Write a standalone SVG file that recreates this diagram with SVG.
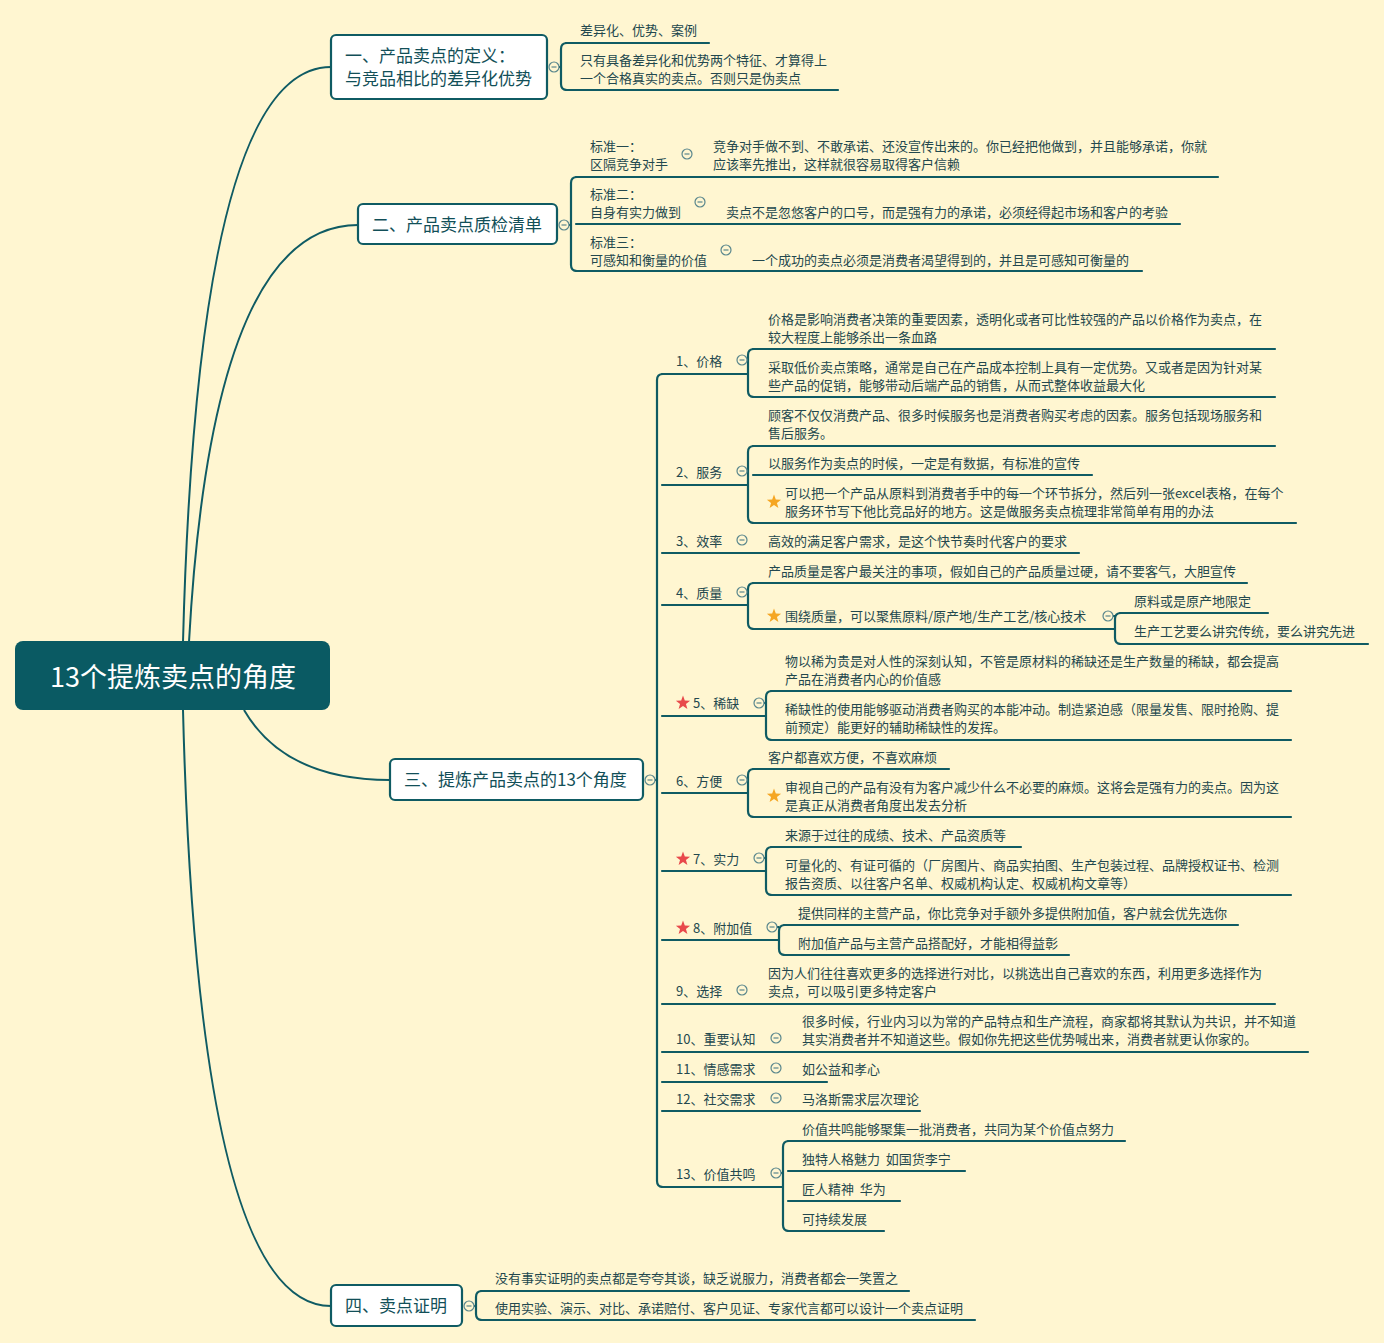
<svg xmlns="http://www.w3.org/2000/svg" width="1384" height="1343" viewBox="0 0 1384 1343">
<defs>
<style>
.bg{fill:#fff6d1}
.ln{fill:none;stroke:#0f5b63;stroke-width:2.2;stroke-linecap:round}
.br{fill:none;stroke:#0f5b63;stroke-width:2.2;stroke-linejoin:round}
.cv{fill:none;stroke:#0f5b63;stroke-width:2}
.box{fill:#ffffff;stroke:#0f5b63;stroke-width:2.2}
.t{font-family:"Noto Sans CJK SC","Noto Sans",sans-serif;font-size:13px;fill:#23484e;white-space:pre}
.m{font-family:"Noto Sans CJK SC","Noto Sans",sans-serif;font-size:17px;fill:#124f58}
.r{font-family:"Noto Sans CJK SC","Noto Sans",sans-serif;font-size:27px;fill:#ffffff}
.c{fill:#fff6d1;stroke:#5a878d;stroke-width:1.2}
.cm{stroke:#5a878d;stroke-width:1.2}
.so{fill:#f5a623}
.sr{fill:#e8494b}
</style>
<polygon id="star" points="0,-7.5 1.8,-2.5 7.1,-2.3 2.95,0.95 4.4,6.05 0,3.1 -4.4,6.05 -2.95,0.95 -7.1,-2.3 -1.8,-2.5"/>
<g id="fold"><circle class="c" r="5"/><line class="cm" x1="-2.5" y1="0" x2="2.5" y2="0"/></g>
</defs>
<rect class="bg" x="0" y="0" width="1384" height="1343"/>

<!-- connectors: root curves and elbow brackets -->
<g id="connectors">
<path class="cv" d="M183 642 Q198 67 331 67"/>
<path class="cv" d="M189 642 Q212 225 358 225"/>
<path class="cv" d="M244 710 Q285 780 390 780"/>
<path class="cv" d="M183 710 Q198 1306 331 1306"/>
<!-- section 1 -->
<path class="br" d="M559 67 H561 M567 43 Q561 43 561 49 V84 Q561 90 567 90"/>
<!-- section 2 -->
<path class="br" d="M569 225 H571 M577 177 Q571 177 571 183 V265 Q571 271 577 271"/>
<!-- section 3 -->
<path class="br" d="M655 780 H657 M663 374 Q657 374 657 380 V1181 Q657 1187 663 1187"/>
<path class="br" d="M747 360 H748 M754 349 Q748 349 748 355 V391 Q748 397 754 397"/>
<path class="br" d="M747 471 H748 M754 446 Q748 446 748 452 V517 Q748 523 754 523"/>
<path class="br" d="M747 592 H748 M754 583 Q748 583 748 589 V623 Q748 629 754 629"/>
<path class="br" d="M1113 616 H1115 M1121 613 Q1115 613 1115 619 V638 Q1115 644 1121 644"/>
<path class="br" d="M764 703 H766 M772 691 Q766 691 766 697 V734 Q766 740 772 740"/>
<path class="br" d="M747 780 H748 M754 769 Q748 769 748 775 V811 Q748 817 754 817"/>
<path class="br" d="M764 858 H766 M772 847 Q766 847 766 853 V889 Q766 895 772 895"/>
<path class="br" d="M777 927 H779 M785 925 Q779 925 779 931 V949 Q779 955 785 955"/>
<path class="br" d="M781 1173 H783 M789 1141 Q783 1141 783 1147 V1225 Q783 1231 789 1231"/>
<!-- section 4 -->
<path class="br" d="M474 1306 H476 M482 1291 Q476 1291 476 1297 V1314 Q476 1320 482 1320"/>
</g>

<!-- central topic -->
<g id="root">
<rect x="15" y="641" width="315" height="69" rx="8" fill="#0a5a63"/>
<text class="r" x="173" y="687" text-anchor="middle">13个提炼卖点的角度</text>
</g>

<!-- 一 -->
<g id="n1">
<rect class="box" x="331" y="35" width="216" height="64" rx="5"/>
<text class="m" x="345" y="62">一、产品卖点的定义：</text>
<text class="m" x="345" y="85">与竞品相比的差异化优势</text>
<use href="#fold" x="554" y="67"/>
</g>
<g id="n1-1"><text class="t" x="580" y="35">差异化、优势、案例</text><line class="ln" x1="566" y1="43" x2="709" y2="43"/></g>
<g id="n1-2"><text class="t" x="580" y="65">只有具备差异化和优势两个特征、才算得上</text><text class="t" x="580" y="83">一个合格真实的卖点。否则只是伪卖点</text><line class="ln" x1="566" y1="90" x2="838" y2="90"/></g>

<!-- 二 -->
<g id="n2">
<rect class="box" x="358" y="204" width="199" height="40" rx="5"/>
<text class="m" x="372" y="231">二、产品卖点质检清单</text>
<use href="#fold" x="564" y="225"/>
</g>
<g id="n2-1"><text class="t" x="590" y="151">标准一：</text><text class="t" x="590" y="169">区隔竞争对手</text><use href="#fold" x="687" y="154"/><line class="ln" x1="576" y1="177" x2="700" y2="177"/></g>
<g id="n2-1-1"><text class="t" x="713" y="151">竞争对手做不到、不敢承诺、还没宣传出来的。你已经把他做到，并且能够承诺，你就</text><text class="t" x="713" y="169">应该率先推出，这样就很容易取得客户信赖</text><line class="ln" x1="700" y1="177" x2="1218" y2="177"/></g>
<g id="n2-2"><text class="t" x="590" y="199">标准二：</text><text class="t" x="590" y="217">自身有实力做到</text><use href="#fold" x="700" y="202"/><line class="ln" x1="576" y1="224" x2="713" y2="224"/></g>
<g id="n2-2-1"><text class="t" x="726" y="217">卖点不是忽悠客户的口号，而是强有力的承诺，必须经得起市场和客户的考验</text><line class="ln" x1="713" y1="224" x2="1180" y2="224"/></g>
<g id="n2-3"><text class="t" x="590" y="247">标准三：</text><text class="t" x="590" y="265">可感知和衡量的价值</text><use href="#fold" x="726" y="250"/><line class="ln" x1="576" y1="271" x2="739" y2="271"/></g>
<g id="n2-3-1"><text class="t" x="752" y="265">一个成功的卖点必须是消费者渴望得到的，并且是可感知可衡量的</text><line class="ln" x1="739" y1="271" x2="1142" y2="271"/></g>

<!-- 三 -->
<g id="n3">
<rect class="box" x="390" y="759" width="253" height="41" rx="5"/>
<text class="m" x="404" y="786">三、提炼产品卖点的13个角度</text>
<use href="#fold" x="650" y="780"/>
</g>

<g id="a1"><text class="t" x="676" y="366">1、价格</text><use href="#fold" x="742" y="360"/><line class="ln" x1="662" y1="374" x2="748" y2="374"/></g>
<g id="a1-1"><text class="t" x="768" y="324">价格是影响消费者决策的重要因素，透明化或者可比性较强的产品以价格作为卖点，在</text><text class="t" x="768" y="342">较大程度上能够杀出一条血路</text><line class="ln" x1="753" y1="349" x2="1275" y2="349"/></g>
<g id="a1-2"><text class="t" x="768" y="372">采取低价卖点策略，通常是自己在产品成本控制上具有一定优势。又或者是因为针对某</text><text class="t" x="768" y="390">些产品的促销，能够带动后端产品的销售，从而式整体收益最大化</text><line class="ln" x1="753" y1="397" x2="1275" y2="397"/></g>

<g id="a2"><text class="t" x="676" y="477">2、服务</text><use href="#fold" x="742" y="471"/><line class="ln" x1="662" y1="485" x2="748" y2="485"/></g>
<g id="a2-1"><text class="t" x="768" y="420">顾客不仅仅消费产品、很多时候服务也是消费者购买考虑的因素。服务包括现场服务和</text><text class="t" x="768" y="438">售后服务。</text><line class="ln" x1="753" y1="446" x2="1275" y2="446"/></g>
<g id="a2-2"><text class="t" x="768" y="468">以服务作为卖点的时候，一定是有数据，有标准的宣传</text><line class="ln" x1="753" y1="475" x2="1092" y2="475"/></g>
<g id="a2-3"><use href="#star" class="so" x="774" y="502"/><text class="t" x="785" y="498">可以把一个产品从原料到消费者手中的每一个环节拆分，然后列一张excel表格，在每个</text><text class="t" x="785" y="516">服务环节写下他比竞品好的地方。这是做服务卖点梳理非常简单有用的办法</text><line class="ln" x1="753" y1="523" x2="1296" y2="523"/></g>

<g id="a3"><text class="t" x="676" y="546">3、效率</text><use href="#fold" x="742" y="540"/><line class="ln" x1="662" y1="553" x2="755" y2="553"/></g>
<g id="a3-1"><text class="t" x="768" y="546">高效的满足客户需求，是这个快节奏时代客户的要求</text><line class="ln" x1="755" y1="553" x2="1079" y2="553"/></g>

<g id="a4"><text class="t" x="676" y="598">4、质量</text><use href="#fold" x="742" y="592"/><line class="ln" x1="662" y1="605" x2="748" y2="605"/></g>
<g id="a4-1"><text class="t" x="768" y="576">产品质量是客户最关注的事项，假如自己的产品质量过硬，请不要客气，大胆宣传</text><line class="ln" x1="753" y1="583" x2="1247" y2="583"/></g>
<g id="a4-2"><use href="#star" class="so" x="774" y="616"/><text class="t" x="785" y="621">围绕质量，可以聚焦原料/原产地/生产工艺/核心技术</text><use href="#fold" x="1108" y="616"/><line class="ln" x1="753" y1="629" x2="1115" y2="629"/></g>
<g id="a4-2-1"><text class="t" x="1134" y="606">原料或是原产地限定</text><line class="ln" x1="1120" y1="613" x2="1268" y2="613"/></g>
<g id="a4-2-2"><text class="t" x="1134" y="636">生产工艺要么讲究传统，要么讲究先进</text><line class="ln" x1="1120" y1="644" x2="1368" y2="644"/></g>

<g id="a5"><use href="#star" class="sr" x="683" y="703"/><text class="t" x="693" y="708">5、稀缺</text><use href="#fold" x="759" y="703"/><line class="ln" x1="662" y1="716" x2="766" y2="716"/></g>
<g id="a5-1"><text class="t" x="785" y="666">物以稀为贵是对人性的深刻认知，不管是原材料的稀缺还是生产数量的稀缺，都会提高</text><text class="t" x="785" y="684">产品在消费者内心的价值感</text><line class="ln" x1="771" y1="691" x2="1291" y2="691"/></g>
<g id="a5-2"><text class="t" x="785" y="714">稀缺性的使用能够驱动消费者购买的本能冲动。制造紧迫感（限量发售、限时抢购、提</text><text class="t" x="785" y="732">前预定）能更好的辅助稀缺性的发挥。</text><line class="ln" x1="771" y1="740" x2="1291" y2="740"/></g>

<g id="a6"><text class="t" x="676" y="786">6、方便</text><use href="#fold" x="742" y="780"/><line class="ln" x1="662" y1="793" x2="748" y2="793"/></g>
<g id="a6-1"><text class="t" x="768" y="762">客户都喜欢方便，不喜欢麻烦</text><line class="ln" x1="753" y1="769" x2="949" y2="769"/></g>
<g id="a6-2"><use href="#star" class="so" x="774" y="796"/><text class="t" x="785" y="792">审视自己的产品有没有为客户减少什么不必要的麻烦。这将会是强有力的卖点。因为这</text><text class="t" x="785" y="810">是真正从消费者角度出发去分析</text><line class="ln" x1="753" y1="817" x2="1291" y2="817"/></g>

<g id="a7"><use href="#star" class="sr" x="683" y="859"/><text class="t" x="693" y="864">7、实力</text><use href="#fold" x="759" y="858"/><line class="ln" x1="662" y1="871" x2="766" y2="871"/></g>
<g id="a7-1"><text class="t" x="785" y="840">来源于过往的成绩、技术、产品资质等</text><line class="ln" x1="771" y1="847" x2="1021" y2="847"/></g>
<g id="a7-2"><text class="t" x="785" y="870">可量化的、有证可循的（厂房图片、商品实拍图、生产包装过程、品牌授权证书、检测</text><text class="t" x="785" y="888">报告资质、以往客户名单、权威机构认定、权威机构文章等）</text><line class="ln" x1="771" y1="895" x2="1291" y2="895"/></g>

<g id="a8"><use href="#star" class="sr" x="683" y="928"/><text class="t" x="693" y="933">8、附加值</text><use href="#fold" x="772" y="927"/><line class="ln" x1="662" y1="940" x2="779" y2="940"/></g>
<g id="a8-1"><text class="t" x="798" y="918">提供同样的主营产品，你比竞争对手额外多提供附加值，客户就会优先选你</text><line class="ln" x1="784" y1="925" x2="1238" y2="925"/></g>
<g id="a8-2"><text class="t" x="798" y="948">附加值产品与主营产品搭配好，才能相得益彰</text><line class="ln" x1="784" y1="955" x2="1069" y2="955"/></g>

<g id="a9"><text class="t" x="676" y="996">9、选择</text><use href="#fold" x="742" y="990"/><line class="ln" x1="662" y1="1004" x2="755" y2="1004"/></g>
<g id="a9-1"><text class="t" x="768" y="978">因为人们往往喜欢更多的选择进行对比，以挑选出自己喜欢的东西，利用更多选择作为</text><text class="t" x="768" y="996">卖点，可以吸引更多特定客户</text><line class="ln" x1="755" y1="1004" x2="1275" y2="1004"/></g>

<g id="a10"><text class="t" x="676" y="1044">10、重要认知</text><use href="#fold" x="776" y="1038"/><line class="ln" x1="662" y1="1052" x2="789" y2="1052"/></g>
<g id="a10-1"><text class="t" x="802" y="1026">很多时候，行业内习以为常的产品特点和生产流程，商家都将其默认为共识，并不知道</text><text class="t" x="802" y="1044">其实消费者并不知道这些。假如你先把这些优势喊出来，消费者就更认你家的。</text><line class="ln" x1="789" y1="1052" x2="1308" y2="1052"/></g>

<g id="a11"><text class="t" x="676" y="1074">11、情感需求</text><use href="#fold" x="776" y="1068"/><line class="ln" x1="662" y1="1082" x2="789" y2="1082"/></g>
<g id="a11-1"><text class="t" x="802" y="1074">如公益和孝心</text><line class="ln" x1="789" y1="1082" x2="827" y2="1082"/></g>

<g id="a12"><text class="t" x="676" y="1104">12、社交需求</text><use href="#fold" x="776" y="1098"/><line class="ln" x1="662" y1="1111" x2="789" y2="1111"/></g>
<g id="a12-1"><text class="t" x="802" y="1104">马洛斯需求层次理论</text><line class="ln" x1="789" y1="1111" x2="920" y2="1111"/></g>

<g id="a13"><text class="t" x="676" y="1179">13、价值共鸣</text><use href="#fold" x="776" y="1173"/><line class="ln" x1="662" y1="1187" x2="783" y2="1187"/></g>
<g id="a13-1"><text class="t" x="802" y="1134">价值共鸣能够聚集一批消费者，共同为某个价值点努力</text><line class="ln" x1="788" y1="1141" x2="1125" y2="1141"/></g>
<g id="a13-2"><text class="t" x="802" y="1164" xml:space="preserve">独特人格魅力  如国货李宁</text><line class="ln" x1="788" y1="1171" x2="965" y2="1171"/></g>
<g id="a13-3"><text class="t" x="802" y="1194" xml:space="preserve">匠人精神  华为</text><line class="ln" x1="788" y1="1201" x2="900" y2="1201"/></g>
<g id="a13-4"><text class="t" x="802" y="1224">可持续发展</text><line class="ln" x1="788" y1="1231" x2="884" y2="1231"/></g>

<!-- 四 -->
<g id="n4">
<rect class="box" x="331" y="1285" width="131" height="41" rx="5"/>
<text class="m" x="345" y="1312">四、卖点证明</text>
<use href="#fold" x="469" y="1306"/>
</g>
<g id="n4-1"><text class="t" x="495" y="1283">没有事实证明的卖点都是夸夸其谈，缺乏说服力，消费者都会一笑置之</text><line class="ln" x1="481" y1="1291" x2="909" y2="1291"/></g>
<g id="n4-2"><text class="t" x="495" y="1313">使用实验、演示、对比、承诺赔付、客户见证、专家代言都可以设计一个卖点证明</text><line class="ln" x1="481" y1="1320" x2="975" y2="1320"/></g>
</svg>
